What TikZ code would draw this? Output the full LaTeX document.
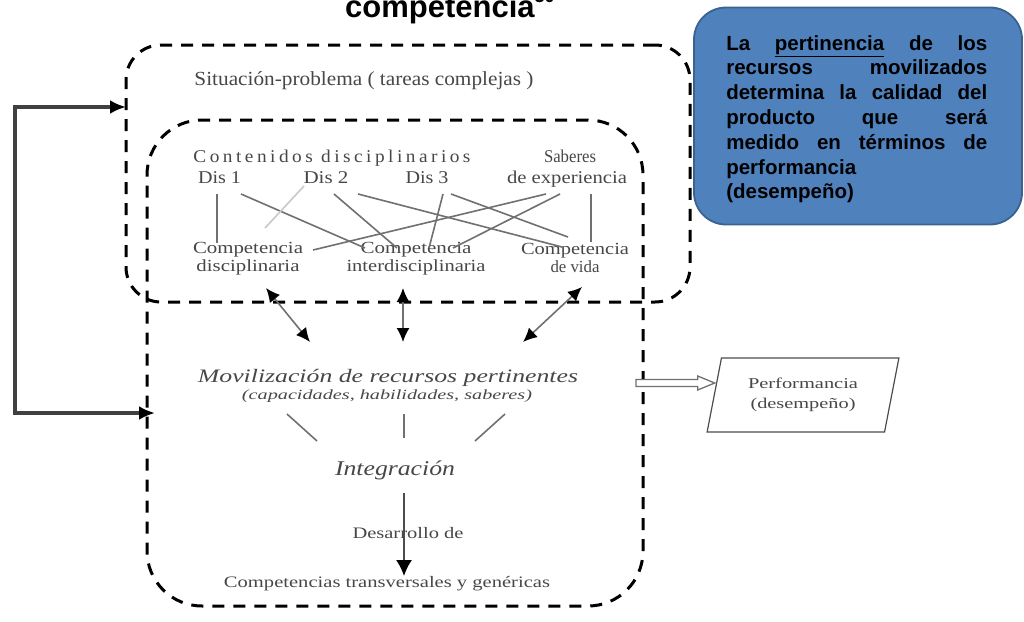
\documentclass[tikz,border=0pt]{standalone}
\usepackage{fontspec}
\usepackage{graphicx}
\setmainfont{Liberation Serif}
\newfontfamily\arialf{Liberation Sans}
\newfontfamily\spacedserif[LetterSpace=18]{Liberation Serif}
\usetikzlibrary{arrows.meta,calc,shapes.geometric}
\definecolor{txt}{HTML}{474747}
\definecolor{ln}{HTML}{707070}
\definecolor{lnlight}{HTML}{C8C8C8}
\definecolor{boxblue}{HTML}{4F81BD}
\definecolor{boxedge}{HTML}{3A6190}
\newcommand{\fitw}[2]{\resizebox{#1}{\height}{#2}}
\newcommand{\jline}[1]{\makebox[261pt][l]{#1}}
\begin{document}
\begin{tikzpicture}[x=1pt,y=-1pt,
  dbox/.style={draw=black, line width=3pt, dash pattern=on 12pt off 9pt, inner sep=0pt, outer sep=0pt},
  gt/.style={text=txt, inner sep=0pt, font=\fontsize{18}{18}\selectfont},
  gline/.style={draw=ln, line width=1.6pt},
  dar/.style={draw=ln, line width=1.6pt, {Latex[length=14pt,width=13pt,color=black]}-{Latex[length=14pt,width=13pt,color=black]}},
  bracket/.style={draw=black!75, line width=4.5pt, {Latex[length=16pt,width=14pt,color=black]}-{Latex[length=16pt,width=14pt,color=black]}},
]
\useasboundingbox (0,0) rectangle (1024,621);

% title
\node[anchor=base west, inner sep=0pt, font=\arialf\bfseries\fontsize{31}{31}\selectfont] (title) at (345,17)
  {competencia\raisebox{15pt}{\fontsize{18}{18}\selectfont 30}};

% dashed frames
\node[dbox, rounded corners=35pt, minimum width=564pt, minimum height=257pt] (outer) at (408,173.5) {};
\node[dbox, rounded corners=55pt, minimum width=496pt, minimum height=486pt] (tall) at (395,363) {};

% blue note
\node[draw=boxedge, fill=boxblue, line width=1.8pt, rounded corners=32pt, minimum width=328pt, minimum height=217pt,
  inner sep=0pt] (blue) at (858,116) {};
\node[anchor=north west, inner sep=0pt, text width=261pt, align=left,
  font=\arialf\bfseries\fontsize{20.5}{24.8}\selectfont] (bluetxt) at ($(blue.north west)+(33,28.5)$) {%
\jline{La\hfill\underline{pertinencia}\hfill de\hfill los}\\
\jline{recursos\hfill movilizados}\\
\jline{determina\hfill la\hfill calidad\hfill del}\\
\jline{producto\hfill que\hfill será}\\
\jline{medido\hfill en\hfill términos\hfill de}\\
performancia\\
(desempeño)};

% texts in frames
\node[gt, anchor=base, font=\fontsize{20}{20}\selectfont] (sit) at (364,85) {\fitw{339pt}{Situación-problema ( tareas complejas )}};
\node[gt, anchor=base, font=\spacedserif\fontsize{18}{18}\selectfont] (cont) at (332,162) {\fitw{277pt}{Contenidos disciplinarios}};
\node[gt, anchor=base] (sab) at (570,162) {\fitw{52pt}{Saberes}};
\node[gt, anchor=base] (dexp) at (567,183) {\fitw{120pt}{de experiencia}};
\node[gt, anchor=base] (d1) at (219.5,183) {\fitw{43pt}{Dis 1}};
\node[gt, anchor=base] (d2) at (326,183) {\fitw{45pt}{Dis 2}};
\node[gt, anchor=base] (d3) at (427,183) {\fitw{43pt}{Dis 3}};
\node[gt, align=center, font=\fontsize{17}{18}\selectfont] (cd) at (248,259) {\fitw{110pt}{Competencia}\\\fitw{103pt}{disciplinaria}};
\node[gt, align=center, font=\fontsize{17}{18}\selectfont] (ci) at (416,259) {\fitw{111pt}{Competencia}\\\fitw{139pt}{interdisciplinaria}};
\node[gt, align=center, font=\fontsize{17}{18}\selectfont] (cv) at (575,258) {\fitw{108pt}{Competencia}\\\fitw{49pt}{de vida}};

% lines between contents and competences
\draw[gline] ($(d1.base)+(-2.5,11)$) -- ($(cd)+(-31,-16)$);
\draw[gline] ($(d1.base)+(21.5,11)$) -- ($(ci)+(-51,-11)$);
\draw[draw=lnlight, line width=1.6pt] ($(d2.base)+(-22,3)$) -- ($(cd)+(17,-31)$);
\draw[gline] ($(d2.base)+(8,11)$) -- ($(ci)+(-19,-11)$);
\draw[gline] ($(d2.base)+(32,11)$) -- ($(cv)+(-13,-11)$);
\draw[gline] ($(d3.base)+(16,11)$) -- ($(ci)+(13,-11)$);
\draw[gline] ($(d3.base)+(24,11)$) -- ($(cv)+(-7,-21)$);
\draw[gline] ($(dexp.base)+(-21,11)$) -- ($(cd)+(65,-9)$);
\draw[gline] ($(dexp.base)+(-7,11)$) -- ($(ci)+(37,-11)$);
\draw[gline] ($(dexp.base)+(24,11)$) -- ($(cv)+(16,-16)$);

% lower part
\node[gt, anchor=base, font=\itshape\fontsize{19}{19}\selectfont] (mov) at (388,382) {\fitw{380pt}{Movilización de recursos pertinentes}};
\node[gt, anchor=base, font=\itshape\fontsize{14}{14}\selectfont] (sub) at (387,399) {\fitw{290pt}{(capacidades, habilidades, saberes)}};
\node[gt, anchor=base, font=\itshape\fontsize{21}{21}\selectfont] (int) at (395,475) {\fitw{120pt}{Integración}};
\node[gt, anchor=base, font=\fontsize{16}{16}\selectfont] (des) at (408,538) {\fitw{111pt}{Desarrollo de}};
\node[gt, anchor=base, font=\fontsize{16}{16}\selectfont] (ctg) at (387,587) {\fitw{326pt}{Competencias transversales y genéricas}};

\draw[dar] ($(cd)+(18,29)$) -- ($(mov.base)+(-78,-40)$);
\draw[dar] ($(ci)+(-13,29)$) -- ($(mov.base)+(15,-40)$);
\draw[dar] ($(cv)+(7,29)$) -- ($(mov.base)+(135,-40)$);

\draw[gline] ($(sub.base)+(-100,15)$) -- ($(int.base)+(-78,-34)$);
\draw[gline] ($(sub.base)+(17,15)$) -- ($(int.base)+(9,-37)$);
\draw[gline] ($(sub.base)+(118,15)$) -- ($(int.base)+(80,-34)$);

\draw[draw=black!70, line width=1.6pt, -{Latex[length=16pt,width=16pt,color=black]}] ($(int.base)+(9,18)$) -- ($(ctg.base)+(17,-11)$);

% performance
\node[draw=black!70, line width=1.2pt, trapezium, trapezium left angle=74, trapezium right angle=106, trapezium stretches=true,
  minimum width=192pt, minimum height=74pt, inner sep=0pt, align=center, text=txt, font=\fontsize{15}{20}\selectfont] (perf) at (803,395)
  {\fitw{110pt}{Performancia}\\\fitw{105pt}{(desempeño)}};
\coordinate (hA) at ($(tall.east)+(-7,20)$);
\coordinate (hB) at ($(perf.west)+(1,-12)$);
\draw[draw=ln, line width=1.3pt, fill=white, line join=miter]
  ($(hA)+(0,-3.5)$) -- ($(hB)+(-17,-3.5)$) -- ($(hB)+(-17,-7)$) -- (hB) -- ($(hB)+(-17,7)$) -- ($(hB)+(-17,3.5)$) -- ($(hA)+(0,3.5)$) -- cycle;

% feedback bracket
\coordinate (bk) at (15,260);
\draw[bracket] ($(outer.north west)+(0,62)$) -| (bk) |- ($(tall.west)+(8,50)$);
\end{tikzpicture}
\end{document}
